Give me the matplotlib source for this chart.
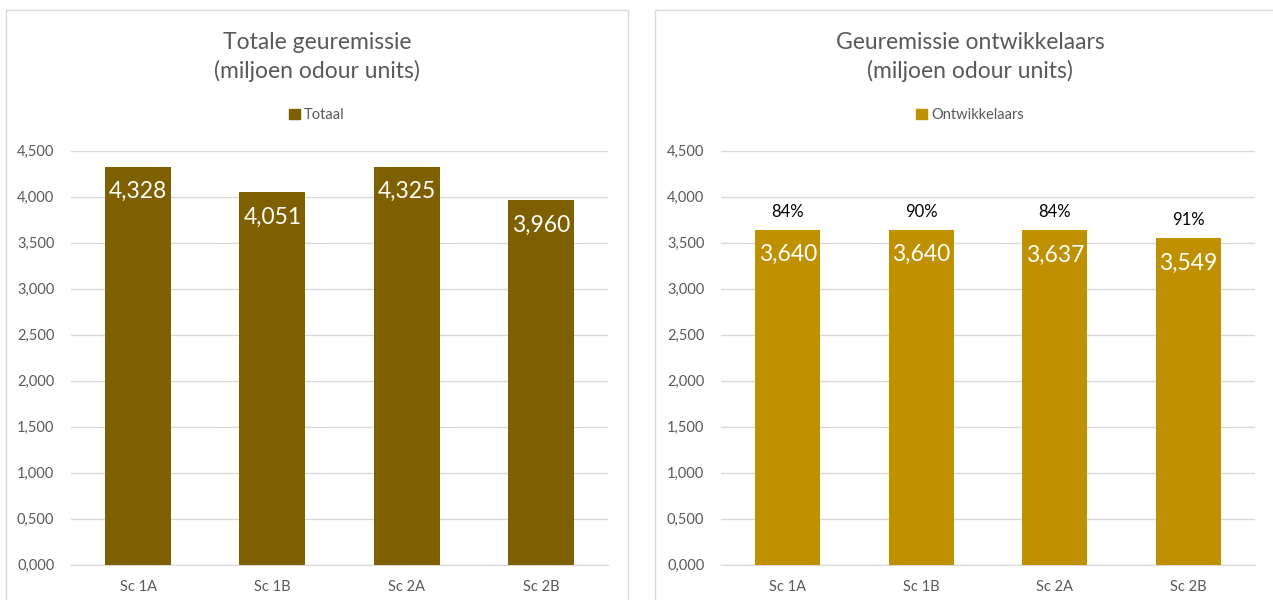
import numpy as np
import matplotlib
matplotlib.use('Agg')
import matplotlib.pyplot as plt
from matplotlib.patches import Rectangle, Patch

plt.rcParams['font.family'] = ['Lato', 'DejaVu Sans']

# data
scenarios = ['Sc 1A', 'Sc 1B', 'Sc 2A', 'Sc 2B']
totaal = [4.328, 4.051, 4.325, 3.960]
ontwikkelaars = [3.640, 3.640, 3.637, 3.549]
aandeel = ['84%', '90%', '84%', '91%']
yticks = [0, 0.5, 1.0, 1.5, 2.0, 2.5, 3.0, 3.5, 4.0, 4.5]

grey_txt = '#595959'
grid_col = '#D9D9D9'


def fmt(v):
    # dutch style decimal comma
    return '{:.3f}'.format(v).replace('.', ',')


def draw_panel(ax, values, color, title, label, panel_center, pct=None):
    x = np.arange(len(values))
    bars = ax.bar(x, values, width=0.49, color=color, zorder=3)
    ax.set_xlim(-0.5, len(values) - 0.5)
    ax.set_ylim(0, 4.5)
    ax.set_yticks(yticks)
    ax.set_yticklabels([fmt(v) for v in yticks])
    ax.set_xticks(x)
    ax.set_xticklabels(scenarios)
    ax.tick_params(axis='both', length=0, colors=grey_txt, labelsize=10.5)
    ax.tick_params(axis='x', pad=11)
    ax.tick_params(axis='y', pad=12)
    for s in ['top', 'right', 'left']:
        ax.spines[s].set_visible(False)
    ax.spines['bottom'].set_color(grid_col)
    ax.grid(axis='y', color=grid_col, linewidth=1, zorder=0)
    ax.set_axisbelow(True)
    for b, v in zip(bars, values):
        ax.annotate(fmt(v), (b.get_x() + b.get_width() / 2, v),
                    xytext=(0, -18), textcoords='offset points',
                    ha='center', va='center', color='white', fontsize=16.5)
    if pct is not None:
        for b, v, p in zip(bars, values, pct):
            ax.annotate(p, (b.get_x() + b.get_width() / 2, v),
                        xytext=(0, 13), textcoords='offset points',
                        ha='center', va='center', color='black', fontsize=12)
    fig.text(panel_center, 1 - 57 / 600, title, ha='center', va='center',
             fontsize=16.5, color=grey_txt, linespacing=1.4)
    fig.legend(handles=[Patch(color=color, label=label)],
               loc='center', bbox_to_anchor=(panel_center, 1 - 115 / 600),
               frameon=False, fontsize=10.5, labelcolor=grey_txt,
               handlelength=0.7, handleheight=0.7, handletextpad=0.3)


fig = plt.figure(figsize=(12.73, 6), dpi=100)
W, H = 1273.0, 600.0

# chart area borders
fig.patches.append(Rectangle((6 / W, -0.05), 622 / W, 1.05 - 10 / H,
                             transform=fig.transFigure, fill=False,
                             edgecolor=grid_col, linewidth=1))
fig.patches.append(Rectangle((655 / W, -0.05), 640 / W, 1.05 - 10 / H,
                             transform=fig.transFigure, fill=False,
                             edgecolor=grid_col, linewidth=1))

ax1 = fig.add_axes([71 / W, 1 - 564.7 / H, 537 / W, 414 / H])
ax2 = fig.add_axes([721 / W, 1 - 564.7 / H, 534 / W, 414 / H])

draw_panel(ax1, totaal, '#7F6000', 'Totale geuremissie\n(miljoen odour units)',
           'Totaal', 317 / W)
draw_panel(ax2, ontwikkelaars, '#BF9000', 'Geuremissie ontwikkelaars\n(miljoen odour units)',
           'Ontwikkelaars', 970 / W, pct=aandeel)

plt.savefig('out.png', dpi=100)
